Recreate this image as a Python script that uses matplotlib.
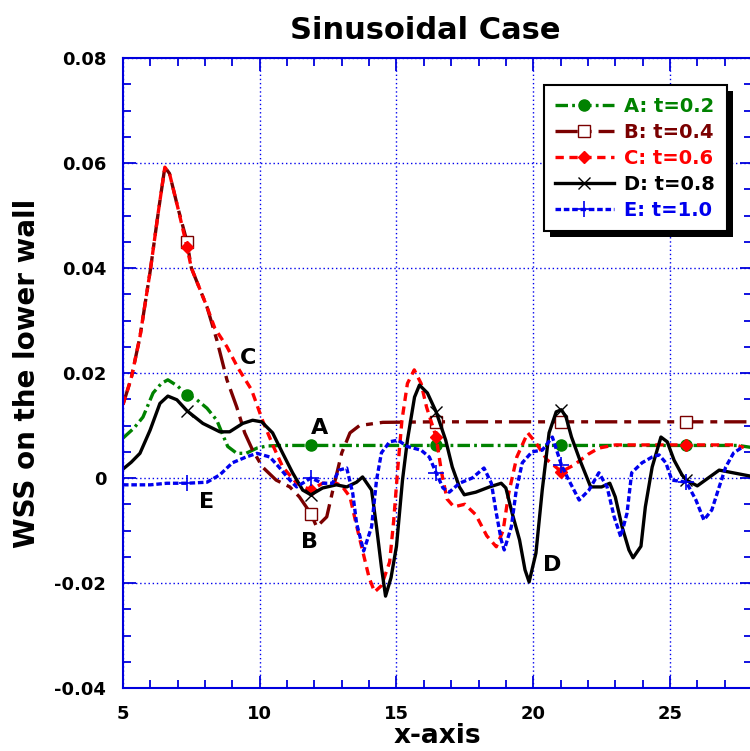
import numpy as np
import matplotlib
matplotlib.use("Agg")
import matplotlib.pyplot as plt
from matplotlib.patches import Rectangle

plt.rcParams['font.family'] = ['DejaVu Sans']
plt.rcParams['font.weight'] = 'bold'
plt.rcParams['lines.scale_dashes'] = False

# ---- data ----
x_a = [5.0, 5.4, 5.73, 6.1, 6.4, 6.64, 7.0, 7.34, 7.7, 8.07, 8.43, 8.65, 8.83, 9.16, 9.5, 9.9,
       10.26, 10.8, 11.87, 13.0, 14.0, 15.0, 16.45, 18.0, 19.5, 21.03, 22.5, 24.0, 25.6, 27.0, 27.5, 28.0]
y_a = [0.0076, 0.0095, 0.0116, 0.0162, 0.018, 0.0187, 0.0175, 0.0158, 0.0149, 0.0133, 0.011, 0.0082,
       0.006, 0.0047, 0.0047, 0.0057, 0.0061, 0.0062, 0.0062, 0.0062, 0.0062, 0.0062, 0.0062, 0.0062,
       0.0062, 0.0062, 0.0062, 0.0062, 0.0062, 0.0062, 0.0062, 0.0058]

x_b = [5.0, 5.3, 5.62, 6.0, 6.3, 6.53, 6.7, 7.0, 7.34, 7.5, 8.07, 8.43, 8.8, 9.16, 9.45, 9.74,
       10.1, 10.6, 11.1, 11.45, 11.87, 12.08, 12.45, 12.7, 13.0, 13.3, 13.65, 14.5, 16.45, 21.03,
       25.6, 28.0]
y_b = [0.014, 0.019, 0.0269, 0.0396, 0.051, 0.0592, 0.058, 0.0516, 0.045, 0.040, 0.0326, 0.0263,
       0.0187, 0.0135, 0.0086, 0.0053, 0.0021, -0.0004, -0.0017, -0.0036, -0.0068, -0.0093, -0.0074,
       -0.0017, 0.0048, 0.0086, 0.0100, 0.0106, 0.0107, 0.0107, 0.0107, 0.0107]

x_c = [5.0, 5.3, 5.62, 6.0, 6.3, 6.53, 6.7, 7.0, 7.34, 7.5, 8.07, 8.36, 8.8, 9.2, 9.7, 10.1, 10.5,
       10.84, 11.35, 11.87, 12.3, 12.8, 13.0, 13.3, 13.55, 14.0, 14.2, 14.45, 14.75, 14.9, 15.05,
       15.2, 15.4, 15.65, 15.9, 16.1, 16.45, 16.65, 16.85, 17.1, 17.5, 17.9, 18.3, 18.65, 18.9,
       19.1, 19.4, 19.8, 20.1, 20.5, 21.03, 21.5, 22.0, 22.4, 23.0, 25.6, 27.4, 27.7]
y_c = [0.014, 0.019, 0.0269, 0.0396, 0.051, 0.0592, 0.058, 0.0516, 0.044, 0.040, 0.0326, 0.0285,
       0.025, 0.021, 0.0168, 0.011, 0.006, 0.0021, -0.001, -0.0023, -0.001, -0.001, -0.0015,
       -0.0036, -0.0093, -0.019, -0.0217, -0.0205, -0.016, -0.008, 0.002, 0.011, 0.018, 0.0206,
       0.018, 0.0135, 0.0078, 0.001, -0.004, -0.0055, -0.005, -0.007, -0.011, -0.0131, -0.010,
       -0.003, 0.004, 0.0086, 0.0067, 0.0035, 0.0012, 0.0025, 0.0045, 0.0057, 0.0063, 0.0063,
       0.0063, 0.0058]

x_d = [5.0, 5.3, 5.62, 5.99, 6.35, 6.64, 6.97, 7.34, 7.92, 8.54, 8.9, 9.38, 9.74, 10.07, 10.47,
       10.84, 11.2, 11.57, 11.87, 12.3, 12.8, 13.18, 13.54, 13.76, 14.09, 14.27, 14.45, 14.6, 14.8,
       15.0, 15.22, 15.4, 15.66, 15.84, 16.13, 16.45, 16.8, 17.04, 17.3, 17.48, 17.9, 18.4, 18.83,
       19.0, 19.23, 19.5, 19.7, 19.85, 20.1, 20.33, 20.58, 20.84, 21.03, 21.2, 21.4, 21.7, 22.1,
       22.5, 22.8, 23.0, 23.25, 23.5, 23.65, 23.94, 24.1, 24.35, 24.67, 24.9, 25.15, 25.44, 25.6,
       26.0, 26.4, 26.8, 27.3, 28.0]
y_d = [0.0017, 0.003, 0.0047, 0.0091, 0.0142, 0.0156, 0.0149, 0.0128, 0.0104, 0.0088, 0.0088,
       0.0104, 0.011, 0.0107, 0.0086, 0.0047, 0.001, -0.0023, -0.0032, -0.0019, -0.0013, -0.0017,
       -0.0008, 0.0002, -0.0023, -0.0093, -0.017, -0.0225, -0.019, -0.013, -0.0004, 0.0072, 0.0154,
       0.0177, 0.0162, 0.0126, 0.0072, 0.0021, -0.0017, -0.0032, -0.0027, -0.0017, -0.001, -0.0019,
       -0.0067, -0.0118, -0.0175, -0.0198, -0.0143, -0.0023, 0.0086, 0.0126, 0.013, 0.0116, 0.0078,
       0.0035, -0.0017, -0.0017, -0.001, -0.0036, -0.0093, -0.0137, -0.0152, -0.013, -0.0055,
       0.0021, 0.0078, 0.0069, 0.0034, 0.0006, -0.0004, -0.0015, 0.0, 0.0015, 0.001, 0.0003]

x_e = [5.0, 6.0, 6.6, 7.34, 8.07, 8.54, 9.0, 9.5, 9.9, 10.37, 10.7, 11.1, 11.35, 11.87, 12.3,
       12.66, 12.9, 13.18, 13.4, 13.54, 13.8, 14.09, 14.27, 14.45, 14.75, 15.05, 15.4, 15.9, 16.2,
       16.45, 16.7, 16.93, 17.3, 17.77, 18.2, 18.47, 18.65, 18.83, 18.94, 19.2, 19.38, 19.6, 19.96,
       20.33, 20.7, 21.03, 21.3, 21.68, 22.04, 22.4, 22.7, 22.96, 23.2, 23.43, 23.6, 23.98, 24.35,
       24.6, 24.85, 25.07, 25.6, 25.95, 26.24, 26.53, 26.8, 27.04, 27.33, 27.6]
y_e = [-0.0013, -0.0013, -0.001, -0.001, -0.0008, 0.0006, 0.0029, 0.004, 0.0047, 0.004, 0.0021,
       -0.0004, -0.0017, 0.0, -0.001, -0.001, 0.0015, 0.0019, -0.0029, -0.0086, -0.0139, -0.0093,
       -0.0004, 0.0048, 0.0069, 0.0072, 0.006, 0.0053, 0.004, 0.001, -0.0019, -0.0027, -0.001, 0.0,
       0.0019, -0.001, -0.0067, -0.0118, -0.0137, -0.0093, -0.0023, 0.0029, 0.005, 0.0053, 0.0078,
       0.0025, -0.0004, -0.0042, -0.0023, 0.001, -0.0017, -0.0074, -0.0112, -0.0067, 0.001, 0.0029,
       0.004, 0.0044, 0.0029, -0.0004, -0.0008, -0.0042, -0.008, -0.0061, -0.0017, 0.0021, 0.0048,
       0.0057]

marker_x = [7.34, 11.87, 16.45, 21.03, 25.6]

labels = ['A: t=0.2', 'B: t=0.4', 'C: t=0.6', 'D: t=0.8', 'E: t=1.0']
colors = ['#008200', '#7a0000', '#ff0000', '#000000', '#0000ee']

curve_tags = ['A', 'B', 'C', 'D', 'E']
tag_x = [12.19, 11.82, 9.56, 20.69, 8.07]
tag_y = [0.0095, -0.0122, 0.0229, -0.0166, -0.0046]

y_ticks = [-0.04, -0.02, 0, 0.02, 0.04, 0.06, 0.08]
y_ticklabels = ['-0.04', '-0.02', '0', '0.02', '0.04', '0.06', '0.08']
x_ticks = [5, 10, 15, 20, 25]

# ---- plot ----
fig = plt.figure(figsize=(7.5, 7.51), dpi=100)
ax = fig.add_axes([123 / 750, 63 / 751, 629 / 750, 630 / 751])

styles = [
    dict(dashes=(9, 3, 2, 3), marker='o', ms=8, mfc=colors[0]),
    dict(dashes=(16, 5, 5, 5), marker='s', ms=9, mfc='white'),
    dict(dashes=(6, 4), marker='D', ms=6, mfc=colors[2]),
    dict(linestyle='-', marker='x', ms=9, mew=1),
    dict(dashes=(4, 2), marker='+', ms=11, mew=1.2),
]

series = [(x_a, y_a), (x_b, y_b), (x_c, y_c), (x_d, y_d), (x_e, y_e)]
for (xs, ys), lab, col, st in zip(series, labels, colors, styles):
    xs = np.asarray(xs)
    idx = [int(np.argmin(np.abs(xs - m))) for m in marker_x]
    ax.plot(xs, ys, color=col, lw=2.4, markevery=idx, label=lab, mec=col, **st)

for t, tx, ty in zip(curve_tags, tag_x, tag_y):
    ax.text(tx, ty, t, fontsize=16, fontweight='bold', ha='center', va='center', color='black')

ax.set_xlim(5, 28)
ax.set_ylim(-0.04, 0.08)
ax.set_xticks(x_ticks)
ax.set_xticks(np.arange(5, 29, 1), minor=True)
ax.set_yticks(y_ticks)
ax.set_yticklabels(y_ticklabels)
ax.set_yticks(np.arange(-0.04, 0.0801, 0.005), minor=True)

for sp in ax.spines.values():
    sp.set_color('#0000dd')
    sp.set_linewidth(1.5)
ax.tick_params(which='both', direction='in', color='#0000dd', top=True, right=True,
               labelsize=13, width=1.3)
ax.tick_params(which='major', length=9, pad=12)
ax.tick_params(which='minor', length=6)
ax.grid(True, which='major', color='#0000ee', linestyle=(0, (1, 2)), linewidth=1)

ax.set_title('Sinusoidal Case', fontsize=22, fontweight='bold', pad=14, x=0.48)
ax.set_xlabel('x-axis', fontsize=19, fontweight='bold', labelpad=0)
ax.set_ylabel('WSS on the lower wall', fontsize=20, fontweight='bold', labelpad=10)

leg = ax.legend(loc='upper right', bbox_to_anchor=(0.96, 0.957), borderaxespad=0,
                numpoints=1, fontsize=14, handlelength=3.0, handletextpad=0.55,
                labelspacing=0.36, borderpad=0.6, fancybox=False, edgecolor='black',
                framealpha=1)
leg.get_frame().set_linewidth(1.5)
for txt, col in zip(leg.get_texts(), colors):
    txt.set_color(col)

# drop shadow behind the legend box
fig.canvas.draw()
bb = leg.get_window_extent()
inv = ax.transAxes.inverted()
(x0, y0), (x1, y1) = inv.transform([(bb.x0 + 6, bb.y0 - 6), (bb.x1 + 6, bb.y1 - 6)])
ax.add_patch(Rectangle((x0, y0), x1 - x0, y1 - y0, transform=ax.transAxes,
                       facecolor='black', edgecolor='none', zorder=4.9, clip_on=False))

fig.savefig('out.png', dpi=100)
